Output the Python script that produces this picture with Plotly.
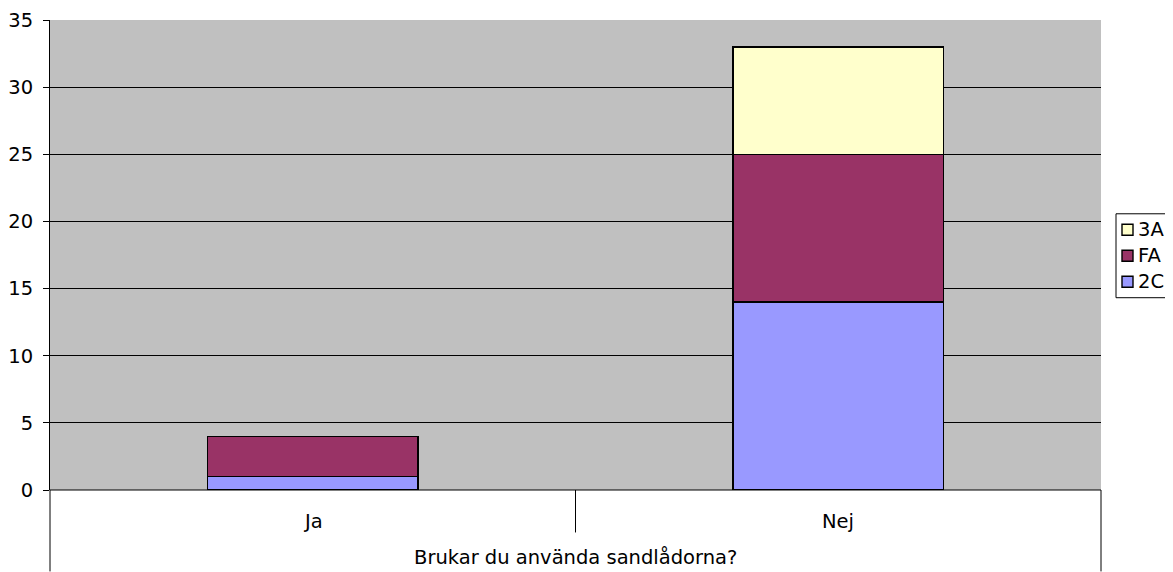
import plotly.graph_objects as go

categories = ["Ja", "Nej"]
group_label = "Brukar du använda sandlådorna?"
series_names = ["2C", "FA", "3A"]
values_2C = [1, 14]
values_FA = [3, 11]
values_3A = [0, 8]
colors = {"2C": "#9999FF", "FA": "#993366", "3A": "#FFFFCC"}
y_ticks = [0, 5, 10, 15, 20, 25, 30, 35]

font = "DejaVu Sans, Verdana, sans-serif"
fs = 19.5

fig = go.Figure()
for name, vals in zip(series_names, [values_2C, values_FA, values_3A]):
    fig.add_trace(go.Bar(
        x=categories, y=vals, name=name, showlegend=False,
        marker=dict(color=colors[name], line=dict(color="#000000", width=1.4)),
    ))

# page has an 8px body margin: figure shifted so plot area sits at x 50-1101, y 20-490.5
W_PLOT, H = 1051, 470.5
PL, PB = 50, 490.5  # plot left / bottom in page pixels
fig.update_layout(
    barmode="stack",
    bargap=0.6,
    width=1165, height=564,
    margin=dict(l=42, r=72, t=12, b=81.5, autoexpand=False),
    paper_bgcolor="white",
    plot_bgcolor="#C0C0C0",
    font=dict(family=font, size=fs, color="#000000"),
    showlegend=False,
    xaxis=dict(
        range=[-0.5, 1.5], showticklabels=False, showgrid=False,
        zeroline=False, showline=False, ticks="",
    ),
    yaxis=dict(
        range=[0, 35], tickvals=y_ticks, showgrid=True, gridcolor="#000000",
        gridwidth=1, zeroline=False, showline=True, linecolor="#000000",
        linewidth=1, ticks="outside", ticklen=6, tickcolor="#000000",
        tickfont=dict(family=font, size=fs), automargin=False,
        ticklabelstandoff=6,
    ),
)

def px(xp):
    return (xp - PL) / W_PLOT

def py(yp):
    return (PB - yp) / H

# multi-level category axis drawn below the plot
line = dict(color="#000000", width=1)
fig.add_shape(type="line", xref="paper", yref="paper", x0=0, x1=1, y0=0, y1=0, line=line)
fig.add_shape(type="line", xref="paper", yref="paper", x0=0, x1=0, y0=0, y1=py(572), line=line)
fig.add_shape(type="line", xref="paper", yref="paper", x0=1, x1=1, y0=0, y1=py(572), line=line)
fig.add_shape(type="line", xref="x", yref="paper", x0=0.5, x1=0.5, y0=0, y1=py(533), line=line)
for c in categories:
    fig.add_annotation(x=c, xref="x", y=py(522), yref="paper", text=c,
                       showarrow=False, yanchor="middle",
                       font=dict(family=font, size=fs))
fig.add_annotation(x=0.5, xref="paper", y=py(558), yref="paper", text=group_label,
                   showarrow=False, yanchor="middle", font=dict(family=font, size=fs))

# legend (reversed order: 3A, FA, 2C)
fig.add_shape(type="rect", xref="paper", yref="paper",
              x0=px(1116), x1=px(1190), y0=py(214), y1=py(298),
              line=dict(color="#000000", width=1), fillcolor="white")
row_y = [230, 256, 282]
for name, yy in zip(series_names[::-1], row_y):
    fig.add_shape(type="rect", xref="paper", yref="paper",
                  x0=px(1122), x1=px(1133), y0=py(yy - 5.5), y1=py(yy + 5.5),
                  line=dict(color="#000000", width=1.4), fillcolor=colors[name])
    fig.add_annotation(x=px(1136), xref="paper", y=py(yy), yref="paper", text=name,
                       showarrow=False, xanchor="left", yanchor="middle",
                       font=dict(family=font, size=fs))

fig.write_html("out.html")
